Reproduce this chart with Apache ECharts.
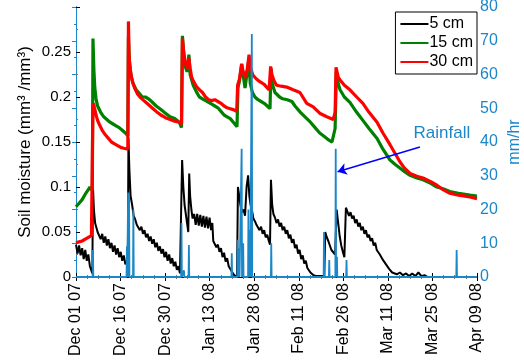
<!DOCTYPE html>
<html>
<head>
<meta charset="utf-8">
<script src="https://cdn.jsdelivr.net/npm/echarts@6/dist/echarts.min.js"></script>
<style>
  html, body { margin: 0; padding: 0; background: #fff; }
  #main { width: 524px; height: 360px; }
</style>
</head>
<body>
<div id="main"></div>
<script>
// x values are days since Dec 01 2007
const tickLabels = ['Dec 01 07', 'Dec 16 07', 'Dec 30 07', 'Jan 13 08', 'Jan 28 08',
  'Feb 11 08', 'Feb 26 08', 'Mar 11 08', 'Mar 25 08', 'Apr 09 08']

const soil5 = [
  [0, 0.036], [0.5, 0.026], [1, 0.035], [1.5, 0.024], [2, 0.032], [2.5, 0.02], [3, 0.03], [3.5, 0.018],
  [4, 0.025], [4.5, 0.012], [5, 0.014], [5.3, 0.004],
  [5.5, 0.1], [5.8, 0.075], [6.2, 0.06], [6.6, 0.055], [7, 0.05], [7.5, 0.052], [8, 0.042], [8.5, 0.048],
  [9, 0.038], [9.5, 0.045], [10, 0.035], [10.5, 0.042], [11, 0.032], [11.5, 0.038], [12, 0.028],
  [12.5, 0.035], [13, 0.025], [13.5, 0.032], [14, 0.022], [14.5, 0.028], [15, 0.018], [15.5, 0.024],
  [16, 0.014], [16.5, 0.018], [16.8, 0.01],
  [17, 0.154], [17.3, 0.12], [17.7, 0.09], [18.2, 0.08], [18.7, 0.068], [19.2, 0.064], [19.7, 0.058],
  [20.2, 0.06], [20.7, 0.052], [21.2, 0.056], [21.7, 0.048], [22.2, 0.052], [22.7, 0.044], [23.2, 0.048],
  [23.7, 0.04], [24.2, 0.045], [24.7, 0.037], [25.2, 0.042], [25.7, 0.033], [26.2, 0.038], [26.7, 0.029],
  [27.2, 0.034], [27.7, 0.026], [28.2, 0.031], [28.7, 0.022], [29.2, 0.028], [29.7, 0.018], [30.2, 0.025],
  [30.7, 0.015], [31.2, 0.021], [31.7, 0.012], [32.2, 0.017], [32.7, 0.008], [33.2, 0.012], [33.7, 0.004],
  [34.2, 0.006],
  [34.4, 0.13], [34.8, 0.1], [35.2, 0.08], [35.6, 0.07], [36, 0.06], [36.4, 0.05], [36.7, 0.115],
  [37, 0.09], [37.4, 0.075], [37.8, 0.065], [38.3, 0.07], [38.8, 0.058], [39.3, 0.07], [39.8, 0.057],
  [40.3, 0.069], [40.8, 0.056], [41.3, 0.068], [41.8, 0.055], [42.3, 0.067], [42.8, 0.054], [43.3, 0.066],
  [43.8, 0.052], [44.2, 0.06], [44.5, 0.04], [45, 0.038], [45.5, 0.033], [46, 0.036], [46.5, 0.028],
  [47, 0.032], [47.5, 0.022], [48, 0.027], [48.5, 0.017], [49, 0.021], [49.5, 0.012], [50, 0.014],
  [50.5, 0.006], [51, 0.007], [51.5, 0.001], [52.2, 0.002],
  [52.5, 0.1], [52.9, 0.09], [53.3, 0.08], [53.8, 0.072], [54.3, 0.075], [54.8, 0.068], [55.3, 0.1],
  [55.8, 0.113], [56.2, 0.09], [56.6, 0.08], [57, 0.075], [57.5, 0.065], [58, 0.062], [58.5, 0.058],
  [59, 0.06], [59.5, 0.052], [60, 0.056], [60.5, 0.048], [61, 0.052], [61.5, 0.044], [62, 0.047],
  [62.5, 0.04], [62.9, 0.036],
  [63.2, 0.108], [63.6, 0.08], [64, 0.07], [64.5, 0.066], [65, 0.06], [65.5, 0.064], [66, 0.056],
  [66.5, 0.06], [67, 0.052], [67.5, 0.056], [68, 0.048], [68.5, 0.052], [69, 0.043], [69.5, 0.047],
  [70, 0.038], [70.5, 0.042], [71, 0.032], [71.5, 0.036], [72, 0.026], [72.5, 0.03], [73, 0.02],
  [73.5, 0.024], [74, 0.015], [74.5, 0.018], [75, 0.01], [75.5, 0.012], [76, 0.005], [76.5, 0.006],
  [77, 0.002], [78, 0.001], [80.5, 0.001],
  [80.8, 0.05], [81.2, 0.045], [81.8, 0.04], [82.3, 0.035], [82.8, 0.03], [83.3, 0.028], [84, 0.025],
  [84.5, 0.075], [85, 0.06], [85.5, 0.045], [86, 0.035], [86.5, 0.028], [87, 0.022],
  [87.5, 0.077], [88, 0.075], [88.5, 0.068], [89, 0.072], [89.5, 0.065], [90, 0.068], [90.5, 0.06],
  [91, 0.064], [91.5, 0.056], [92, 0.06], [92.5, 0.052], [93, 0.056], [93.5, 0.048], [94, 0.052],
  [94.5, 0.044], [95, 0.047], [95.5, 0.04], [96, 0.043], [96.5, 0.035], [97, 0.038], [97.5, 0.03],
  [98, 0.032], [98.5, 0.025], [99, 0.026], [99.5, 0.019], [100, 0.02], [100.5, 0.014], [101, 0.014],
  [101.5, 0.009], [102, 0.01], [102.5, 0.005], [103, 0.007], [104, 0.003], [105, 0.005], [106, 0.002],
  [107, 0.004], [108, 0.001], [109, 0.004], [110, 0.001], [111, 0.005], [112, 0.001], [113, 0.002],
  [114, 0], [130, 0]
]

const soil15 = [
  [0, 0.078], [0.5, 0.08], [1, 0.082], [1.5, 0.081], [2, 0.086], [2.5, 0.088], [3, 0.092], [3.5, 0.093],
  [4, 0.097], [4.5, 0.1], [5, 0.098], [5.3, 0.096],
  [5.5, 0.265], [5.8, 0.23], [6.1, 0.21], [6.5, 0.198], [7, 0.19], [8, 0.183], [9, 0.178], [10, 0.175],
  [11, 0.172], [12, 0.17], [13, 0.168], [14, 0.166], [15, 0.163], [16, 0.16], [16.8, 0.157],
  [17, 0.267], [17.3, 0.24], [17.8, 0.225], [18.5, 0.215], [19.5, 0.208], [20.5, 0.204], [21.5, 0.2],
  [22.5, 0.2], [23.5, 0.198], [24.5, 0.195], [26, 0.19], [27.5, 0.186], [29, 0.182], [30.5, 0.178],
  [32, 0.176], [33.5, 0.172], [34.2, 0.166],
  [34.5, 0.268], [34.9, 0.25], [35.3, 0.235], [36, 0.228], [36.6, 0.247], [37, 0.225], [38, 0.213],
  [39, 0.206], [40, 0.2], [41, 0.198], [42, 0.196], [43, 0.194], [44, 0.192], [45, 0.19], [46, 0.188],
  [47, 0.184], [48, 0.18], [49, 0.178], [50, 0.176], [51, 0.172], [52.2, 0.167],
  [52.5, 0.21], [53, 0.218], [53.7, 0.236], [54.3, 0.222], [54.8, 0.21], [55.5, 0.228], [56, 0.241],
  [56.5, 0.215], [57.2, 0.205], [58, 0.2], [59, 0.197], [60, 0.195], [61, 0.193], [62, 0.19], [62.9, 0.187],
  [63.2, 0.232], [63.6, 0.215], [64.5, 0.205], [66, 0.2], [67, 0.198], [68.5, 0.197], [70, 0.195],
  [71, 0.19], [72, 0.186], [73, 0.182], [74.5, 0.177], [76, 0.172], [77.5, 0.166], [79, 0.16],
  [80.5, 0.156], [82, 0.152], [83, 0.15], [83.6, 0.152], [84, 0.165],
  [84.4, 0.228], [85, 0.215], [85.6, 0.208], [87, 0.2], [88.8, 0.194], [91, 0.183], [93, 0.174],
  [95, 0.165], [97.6, 0.154], [99.5, 0.142], [101.8, 0.13], [103.5, 0.125], [105, 0.121], [106.5, 0.117],
  [108.3, 0.113], [110.5, 0.11], [112.5, 0.108], [115, 0.104], [117, 0.1], [119, 0.098], [121.2, 0.095],
  [124, 0.093], [127.7, 0.091], [130, 0.09]
]

const soil30 = [
  [0, 0.038], [1, 0.039], [2, 0.04], [3, 0.042], [4, 0.044], [5, 0.046], [5.4, 0.047],
  [5.5, 0.19], [5.7, 0.193], [6, 0.188], [6.5, 0.18], [7, 0.174], [7.5, 0.17], [8.5, 0.163], [9.5, 0.158],
  [10.5, 0.154], [11.5, 0.15], [12.5, 0.148], [13.5, 0.146], [14.5, 0.144], [15.5, 0.143], [16.8, 0.142],
  [17, 0.284], [17.2, 0.245], [17.6, 0.23], [18.2, 0.218], [19, 0.21], [20, 0.203], [21, 0.199],
  [22, 0.196], [23, 0.193], [24, 0.19], [25, 0.187], [26, 0.184], [27.5, 0.18], [29, 0.177],
  [30.5, 0.175], [32, 0.173], [33.5, 0.172], [34.2, 0.17],
  [34.5, 0.265], [34.9, 0.25], [35.5, 0.237], [36, 0.232], [36.6, 0.243], [37, 0.232], [37.5, 0.222],
  [38, 0.218], [39, 0.212], [40, 0.208], [41, 0.205], [42, 0.2], [43, 0.197], [44, 0.196], [45, 0.197],
  [46, 0.195], [47, 0.193], [48, 0.19], [49, 0.188], [50, 0.187], [51, 0.186], [52.1, 0.184],
  [52.4, 0.213], [53, 0.22], [53.7, 0.237], [54.2, 0.228], [54.8, 0.221], [55.5, 0.23], [56.1, 0.247],
  [56.6, 0.232], [57.4, 0.224], [58.5, 0.22], [59.6, 0.217], [61, 0.214], [62.6, 0.208],
  [63.1, 0.234], [63.5, 0.225], [64.2, 0.218], [65, 0.213], [66.5, 0.212], [68.3, 0.211], [70.4, 0.208],
  [72.6, 0.205], [74.8, 0.193], [76.9, 0.189], [79, 0.182], [81.3, 0.178], [83.4, 0.175], [84, 0.183],
  [84.3, 0.233], [85, 0.222], [85.6, 0.219], [87, 0.213], [88.8, 0.208], [91, 0.2], [93, 0.193],
  [95, 0.183], [97.6, 0.172], [99.5, 0.16], [101.8, 0.147], [103.5, 0.137], [105, 0.128], [106.5, 0.121],
  [108.3, 0.115], [110.5, 0.112], [112.5, 0.11], [115, 0.106], [117, 0.102], [119, 0.097], [121.2, 0.093],
  [124, 0.091], [127.7, 0.089], [130, 0.087]
]

// rainfall spikes (mm/hr), zero in between
const rainDays = [5.5, 16.5, 16.9, 17.2, 18.6, 34.2, 35.0, 36.6, 50.5, 52.4, 52.9, 53.7, 54.2, 55.9, 56.4, 57.0, 63.3, 80.4, 82.1, 84.2, 84.6, 87.7, 123.4]
const rainVals = [8, 9, 25, 24, 20, 16, 2, 9.5, 7, 11, 8.5, 38, 10, 20, 14, 72, 10, 13.3, 5, 38, 6, 5, 8]

const blue = '#1b87c9'
const font = 'Liberation Sans, Arial, Helvetica, sans-serif'

const rain = [[0, 0]]
rainDays.forEach(function (d, i) {
  rain.push([d - 0.12, 0], [d, rainVals[i]], [d + 0.12, 0])
})
rain.push([130, 0])

const step = 130 / 9
var myChart = echarts.init(document.getElementById('main'))

var option = {
  animation: false,
  textStyle: { fontFamily: font },
  grid: { left: 76, right: 47, top: 7, bottom: 83, containLabel: false, outerBoundsMode: 'none' },
  legend: {
    data: ['5 cm', '15 cm', '30 cm'],
    orient: 'vertical',
    right: 47,
    top: 12,
    backgroundColor: '#fff',
    borderColor: '#000',
    borderWidth: 1,
    borderRadius: 0,
    padding: [4, 4, 4, 5],
    itemWidth: 28,
    itemHeight: 2,
    itemGap: 3,
    icon: 'rect',
    textStyle: { fontSize: 16, color: '#000', fontFamily: font, lineHeight: 16, padding: [0, 0, 0, -4] }
  },
  xAxis: [
    {
      type: 'value',
      min: 0,
      max: 130,
      interval: step,
      axisLine: { lineStyle: { color: '#000', width: 1 } },
      axisTick: { inside: true, length: 4, lineStyle: { color: '#000' } },
      minorTick: { show: true, splitNumber: 4, length: 2, lineStyle: { color: '#777' } },
      splitLine: { show: false },
      axisLabel: {
        rotate: 90,
        fontSize: 16,
        color: '#000',
        margin: 6,
        formatter: function (v) { return tickLabels[Math.round(v / step)] }
      }
    },
    {
      type: 'value',
      position: 'top',
      min: 0,
      max: 130,
      interval: step,
      axisLine: { lineStyle: { color: '#000', width: 1 } },
      axisTick: { inside: true, length: 4, lineStyle: { color: '#000' } },
      minorTick: { show: true, splitNumber: 4, length: 2, lineStyle: { color: '#777' } },
      splitLine: { show: false },
      axisLabel: { show: false }
    }
  ],
  yAxis: [
    {
      type: 'value',
      min: 0,
      max: 0.3,
      interval: 0.05,
      name: 'Soil moisture (mm³ /mm³)',
      nameLocation: 'middle',
      nameGap: 42,
      nameMoveOverlap: false,
      nameTextStyle: { fontSize: 17, color: '#000', fontFamily: font },
      axisLine: { show: true, lineStyle: { color: '#000', width: 1 } },
      axisTick: { inside: true, length: 4, lineStyle: { color: '#000' } },
      minorTick: { show: true, splitNumber: 2, length: 2, lineStyle: { color: '#777' } },
      splitLine: { show: false },
      axisLabel: {
        fontSize: 15,
        color: '#000',
        margin: 5,
        formatter: function (v) { return v > 0.29 ? '' : String(+v.toFixed(2)) }
      }
    },
    {
      type: 'value',
      position: 'right',
      min: 0,
      max: 80,
      interval: 10,
      name: 'mm/hr',
      nameLocation: 'middle',
      nameGap: 30,
      nameRotate: 90,
      nameMoveOverlap: false,
      nameTextStyle: { fontSize: 16, color: blue, fontFamily: font },
      axisLine: { show: true, lineStyle: { color: blue, width: 1 } },
      axisTick: { inside: true, length: 4, lineStyle: { color: blue } },
      minorTick: { show: true, splitNumber: 2, length: 2, lineStyle: { color: blue } },
      splitLine: { show: false },
      axisLabel: { fontSize: 16, color: blue, margin: 3 }
    }
  ],
  series: [
    {
      name: '5 cm',
      type: 'line',
      yAxisIndex: 0,
      symbol: 'none',
      color: '#000',
      lineStyle: { width: 2, color: '#000' },
      data: soil5
    },
    {
      name: '15 cm',
      type: 'line',
      yAxisIndex: 0,
      symbol: 'none',
      color: '#008000',
      lineStyle: { width: 3.2, color: '#008000' },
      data: soil15
    },
    {
      name: '30 cm',
      type: 'line',
      yAxisIndex: 0,
      symbol: 'none',
      color: '#ff0000',
      lineStyle: { width: 3.2, color: '#ff0000' },
      data: soil30
    },
    {
      name: 'Rainfall',
      type: 'line',
      yAxisIndex: 1,
      symbol: 'none',
      color: blue,
      lineStyle: { width: 1.8, color: blue },
      data: rain,
      markLine: {
        silent: true,
        symbol: ['none', 'arrow'],
        symbolSize: 9,
        lineStyle: { color: '#0000ff', width: 1.5, type: 'solid' },
        label: { show: false },
        data: [[{ coord: [111.5, 38.5] }, { coord: [84.8, 31.2] }]]
      },
      markPoint: {
        silent: true,
        symbol: 'rect',
        symbolSize: 1,
        itemStyle: { color: 'rgba(0,0,0,0)' },
        label: { show: true, position: 'inside', formatter: 'Rainfall', fontSize: 17, color: blue, fontFamily: font },
        data: [{ coord: [118.6, 42.7] }]
      }
    }
  ]
}

myChart.setOption(option)
</script>
</body>
</html>
